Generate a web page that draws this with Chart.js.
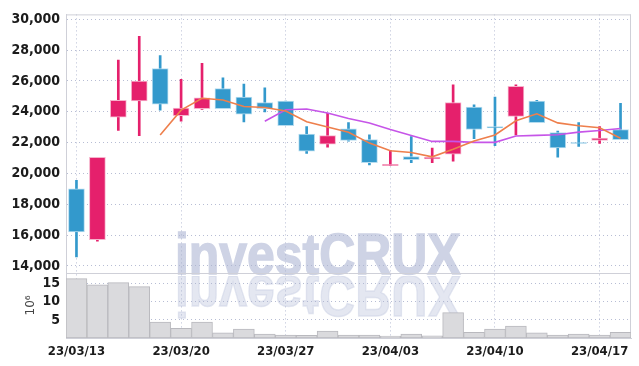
<!DOCTYPE html>
<html><head><meta charset="utf-8">
<script src="https://cdn.jsdelivr.net/npm/chart.js@4.4.0/dist/chart.umd.min.js"></script>
<style>html,body{margin:0;padding:0;background:#fff;overflow:hidden;}</style>
</head><body>
<canvas id="c" width="639" height="366" style="display:block;width:639px;height:366px"></canvas>
<script>
// ---- data ----
const dates = ['23/03/13','23/03/14','23/03/15','23/03/16','23/03/17',
  '23/03/20','23/03/21','23/03/22','23/03/23','23/03/24',
  '23/03/27','23/03/28','23/03/29','23/03/30','23/03/31',
  '23/04/03','23/04/04','23/04/05','23/04/06','23/04/07',
  '23/04/10','23/04/11','23/04/12','23/04/13','23/04/14',
  '23/04/17','23/04/18'];
const openP  = [19000,15700,23650,24700,26800,23750,24200,25500,24950,24600,24700,22550,21900,22900,22200,20500,21100,20950,21250,24300,23050,23700,24700,22650,22000,22150,22850];
const highP  = [19550,21050,27350,28900,27650,26100,27150,26200,25800,25550,24700,23050,23900,23300,22500,21500,22400,21650,25750,24450,24950,25750,24750,22750,23300,23050,24550];
const lowP   = [14580,15600,22800,22450,24100,23400,24150,24200,23350,24000,23100,21300,21700,22100,20550,20500,20700,20700,20800,22250,21800,22500,23300,21050,21750,21950,22200];
const closeP = [16200,21050,24750,26000,24500,24250,24900,24200,23850,24200,23100,21450,22450,22150,20700,20600,20900,21050,24600,22850,22950,25650,23300,21650,21950,22300,22200];
const volumeM = [16.4,14.7,15.3,14.2,4.4,2.7,4.4,1.4,2.5,1.1,0.8,0.75,1.9,0.8,0.8,0.55,1.1,0.6,7.0,1.6,2.5,3.3,1.4,0.8,1.1,0.8,1.6];
const ma5  = [null,null,null,null,22500,24110,24880,24770,24340,24280,24050,23360,23010,22670,21970,21470,21360,21080,21570,22100,22500,23420,23870,23280,23100,22970,22280];
const ma10 = [null,null,null,null,null,null,null,null,null,23390,24130,24180,23920,23560,23280,22850,22470,22080,22080,22020,22020,22430,22470,22510,22680,22790,22920];
const priceTicks = [14000,16000,18000,20000,22000,24000,26000,28000,30000];
const volumeTicks = [5,10,15];
const dateTickIdx = [0,5,10,15,20,25];

const UP = '#e5206c', UP_EDGE = '#f6b3cc';
const DOWN = '#3399cc', DOWN_EDGE = '#b5dcef';
const isUp = dates.map((d,i)=> closeP[i] >= openP[i]);
const FONT = "'Liberation Sans Narrow','DejaVu Sans Condensed','Liberation Sans',sans-serif";
const GRID = 'rgba(170,178,205,0.85)';

const watermark = {
  id:'watermark',
  beforeDraw(chart){
    const {ctx, chartArea} = chart;
    const yb = chart.scales.y.bottom;
    ctx.save();
    ctx.font = "bold 58px 'Liberation Sans','DejaVu Sans',sans-serif";
    ctx.textBaseline = 'alphabetic';
    const x0 = chartArea.left + 109;
    ctx.save();
    ctx.beginPath(); ctx.rect(chartArea.left, chartArea.top, chartArea.width, yb - chartArea.top + 3); ctx.clip();
    ctx.translate(x0, yb + 1);
    ctx.scale(0.86, 1);
    ctx.fillStyle = 'rgb(206,211,229)';
    ctx.strokeStyle = 'rgb(206,211,229)'; ctx.lineWidth = 1.5;
    ctx.fillText('investCRUX', 0, 0);
    ctx.strokeText('investCRUX', 0, 0);
    ctx.restore();
    ctx.save();
    ctx.beginPath(); ctx.rect(chartArea.left, yb + 3, chartArea.width, 44); ctx.clip();
    ctx.translate(x0, yb + 3);
    ctx.scale(0.86, -1);
    ctx.fillStyle = 'rgba(206,211,229,0.55)';
    ctx.strokeStyle = 'rgba(206,211,229,0.55)'; ctx.lineWidth = 1.5;
    ctx.fillText('investCRUX', 0, 0);
    ctx.strokeText('investCRUX', 0, 0);
    ctx.restore();
    ctx.restore();
  }
};
const frame = {
  id:'frame',
  beforeDatasetsDraw(chart){
    const {ctx, chartArea} = chart;
    const yb = chart.scales.y.bottom;
    ctx.save();
    ctx.strokeStyle = '#cfd0d8'; ctx.lineWidth = 1;
    ctx.beginPath();
    ctx.moveTo(chartArea.left, chartArea.top + 0.5); ctx.lineTo(chartArea.right, chartArea.top + 0.5);
    ctx.moveTo(chartArea.right - 0.5, chartArea.top); ctx.lineTo(chartArea.right - 0.5, chartArea.bottom);
    ctx.moveTo(chartArea.left, Math.round(yb) + 0.5); ctx.lineTo(chartArea.right, Math.round(yb) + 0.5);
    ctx.stroke();
    ctx.restore();
  }
};

new Chart(document.getElementById('c'), {
  data: {
    labels: dates,
    datasets: [
      { type:'line', label:'MA5', data: ma5, yAxisID:'y', borderColor:'#ee7f4c', borderWidth:1.6,
        pointRadius:0, tension:0, order:1 },
      { type:'line', label:'MA10', data: ma10, yAxisID:'y', borderColor:'#c655e8', borderWidth:1.6,
        pointRadius:0, tension:0, order:1 },
      { type:'bar', label:'body', data: dates.map((d,i)=>[openP[i], closeP[i]]), yAxisID:'y',
        backgroundColor: isUp.map(u=>u?UP:DOWN), borderColor: isUp.map(u=>u?UP_EDGE:DOWN_EDGE),
        borderWidth:1, borderSkipped:false, barThickness:16, grouped:false, order:2 },
      { type:'bar', label:'wick', data: dates.map((d,i)=>[lowP[i], highP[i]]), yAxisID:'y',
        backgroundColor: isUp.map(u=>u?UP:DOWN), borderWidth:0, barThickness:2, grouped:false, order:3 },
      { type:'bar', label:'volume', data: volumeM, yAxisID:'yv',
        backgroundColor:'#dadadd', borderColor:'#b9b9be', borderWidth:1, borderSkipped:false,
        barPercentage:1, categoryPercentage:1, grouped:false, order:4 }
    ]
  },
  options: {
    responsive:false, animation:false, devicePixelRatio:1,
    layout:{ padding:{ top:9, right:8, left:0, bottom:0 } },
    plugins:{ legend:{display:false}, tooltip:{enabled:false} },
    scales:{
      x:{ type:'category', offset:true,
        grid:{ offset:false, color:GRID, drawTicks:false },
        border:{ display:true, color:'#cfd0d8', dash:[1,3] },
        afterBuildTicks(s){ s.ticks = dateTickIdx.map(v=>({value:v})); },
        ticks:{ autoSkip:false, maxRotation:0, padding:6, color:'#1b1b1b',
          font:{ family:FONT, size:13, weight:'bold' },
          callback(v){ return this.getLabelForValue(v); } },
        afterFit(s){ s.height = 28; }
      },
      yv:{ type:'linear', position:'left', stack:'panel', stackWeight:66,
        min:0, max:18,
        grid:{ color:GRID, drawTicks:false },
        border:{ display:true, color:'#cfd0d8', dash:[1,3] },
        afterBuildTicks(s){ s.ticks = volumeTicks.map(v=>({value:v})); },
        ticks:{ autoSkip:false, padding:6, color:'#1b1b1b', font:{ family:FONT, size:14, weight:'bold' } },
        title:{ display:true, text:'10⁶', color:'#444', padding:{top:24,bottom:0},
          font:{ family:"'DejaVu Sans',sans-serif", size:12 } },
        afterFit(s){ s.width = 66; }
      },
      y:{ type:'linear', position:'left', stack:'panel', stackWeight:262,
        min:13550, max:30320,
        grid:{ color:GRID, drawTicks:false },
        border:{ display:true, color:'#cfd0d8', dash:[1,3] },
        afterBuildTicks(s){ s.ticks = priceTicks.map(v=>({value:v})); },
        ticks:{ autoSkip:false, padding:6, color:'#1b1b1b', font:{ family:FONT, size:14, weight:'bold' },
          callback(v){ return v.toLocaleString('en-US'); } },
        afterFit(s){ s.width = 66; }
      }
    }
  },
  plugins:[watermark, frame]
});
</script>
</body></html>
